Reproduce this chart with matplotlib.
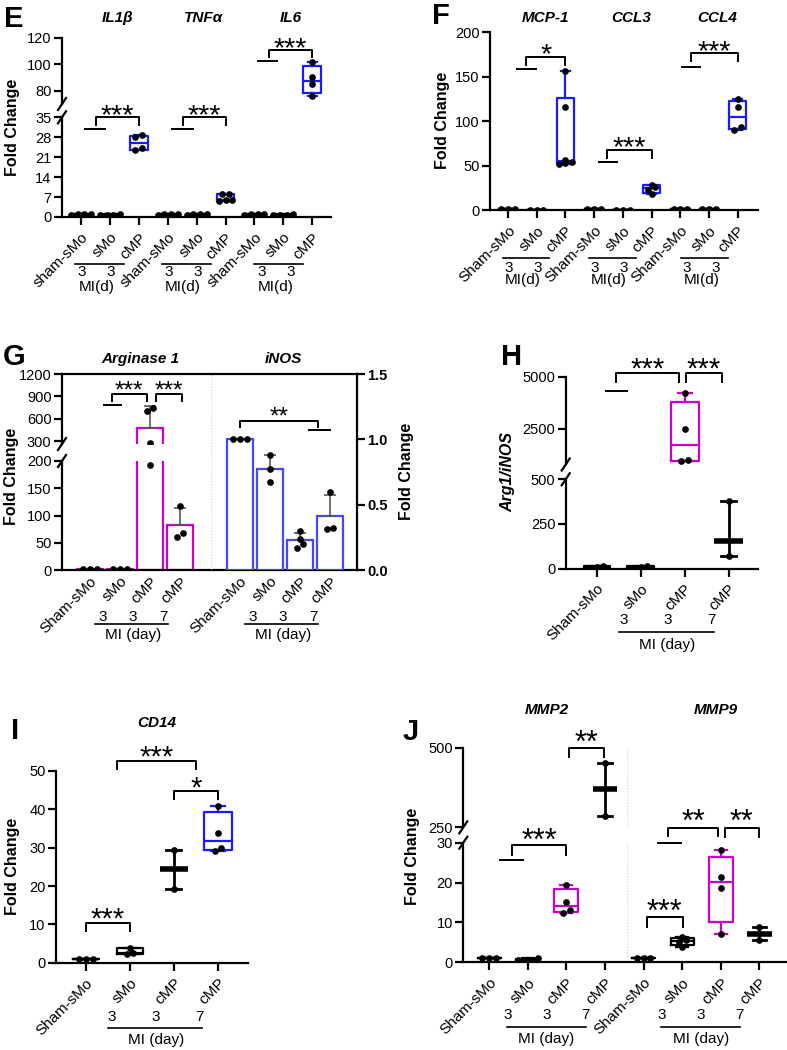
import numpy as np
import matplotlib
matplotlib.use("Agg")
import matplotlib.pyplot as plt
from matplotlib.lines import Line2D

plt.rcParams["font.family"] = ["Liberation Sans", "DejaVu Sans"]
plt.rcParams["axes.linewidth"] = 1.6
plt.rcParams["xtick.major.width"] = 1.6
plt.rcParams["ytick.major.width"] = 1.6
plt.rcParams["xtick.major.size"] = 5.5
plt.rcParams["ytick.major.size"] = 5.5
plt.rcParams["ytick.labelsize"] = 10.5
plt.rcParams["xtick.labelsize"] = 11
plt.rcParams["ytick.major.pad"] = 2
plt.rcParams["xtick.major.pad"] = 4

W, H = 787, 1050
BLUE = "#1a1aff"
MAG = "#cc00cc"
NOS = "#4646ff"

# ---- E: cytokines ----
e_genes = ["IL1β", "TNFα", "IL6"]
e_groups = ["sham-sMo", "sMo", "cMP"]
e_sham = [[0.8, 1.0, 1.0, 1.2], [0.8, 1.0, 1.0, 1.2], [0.8, 1.0, 1.0, 1.2]]
e_smo = [[0.6, 0.8, 0.8, 1.0], [0.7, 0.9, 1.0, 1.2], [0.6, 0.8, 0.8, 1.0]]
e_cmp = [[23.4, 24.2, 28.0, 28.8], [5.6, 6.0, 6.0, 8.2, 8.2], [75.8, 84.8, 90.1, 101.7]]

# ---- F: chemokines ----
f_genes = ["MCP-1", "CCL3", "CCL4"]
f_groups = ["Sham-sMo", "sMo", "cMP"]
f_sham = [[1.0, 1.0, 1.0], [1.0, 1.0, 1.0], [1.0, 1.0, 1.0]]
f_smo = [[0.6, 0.7, 0.8], [0.5, 0.6, 0.7], [0.9, 1.0, 1.1]]
f_cmp = [[156.5, 115.7, 56.5, 54.0, 53.5, 52.0], [28.4, 26.5, 22.8, 18.0], [124.7, 115.7, 94.0, 90.2]]

# ---- G: Arginase 1 / iNOS ----
g_groups = ["Sham-sMo", "sMo", "cMP", "cMP"]
g_days = ["3", "3", "7"]
g_arg = [[1, 1, 1], [1, 1, 1], [707, 747, 270, 193], [118, 67, 60]]
g_nos = [[1.0, 1.0, 1.0], [0.88, 0.77, 0.67], [0.30, 0.24, 0.20, 0.17], [0.60, 0.31, 0.325]]

# ---- H: Arg1/iNOS ----
h_sham = [3, 8, 12]
h_smo = [4, 9, 12]
h_cmp3 = [4206, 2483, 1014, 966]
h_cmp7 = [72, 154, 381]

# ---- I: CD14 ----
i_sham = [1.0, 1.0, 1.0]
i_smo = [3.9, 2.5, 2.3]
i_cmp3 = [19.2, 24.5, 29.4]
i_cmp7 = [41.0, 33.8, 29.9, 29.2]

# ---- J: MMP2 / MMP9 ----
j_genes = ["MMP2", "MMP9"]
j_sham = [[1.0, 1.0, 1.0], [1.0, 1.0, 1.0]]
j_smo = [[1.0, 0.7, 0.6, 0.5], [6.3, 5.5, 5.2, 3.9]]
j_cmp3 = [[19.3, 15.2, 13.1, 12.3], [28.2, 21.4, 18.7, 7.1]]
j_cmp7 = [[285, 370, 451], [5.6, 7.0, 8.9]]

fig = plt.figure(figsize=(W / 100, H / 100), dpi=100)


def add_ax(l, t, r, b, xlim, ylim):
    ax = fig.add_axes([l / W, 1 - b / H, (r - l) / W, (b - t) / H])
    ax.spines[["top", "right"]].set_visible(False)
    ax.set_xlim(*xlim)
    ax.set_ylim(*ylim)
    ax.px = (l, t, r, b)
    return ax


def upper(ax):
    ax.spines["bottom"].set_visible(False)
    ax.tick_params(axis="x", bottom=False, labelbottom=False)


def xppu(ax):
    x0, x1 = ax.get_xlim()
    return (ax.px[2] - ax.px[0]) / (x1 - x0)


def yppu(ax):
    y0, y1 = ax.get_ylim()
    return (ax.px[3] - ax.px[1]) / (y1 - y0)


def ay(ax, py):
    l, t, r, b = ax.px
    return (b - py) / (b - t)


def swarm(ax, x, vals, step=6.7, tol=4.0):
    vals = np.asarray(vals, float)
    clusters = []
    for i in np.argsort(vals):
        if clusters and (vals[i] - vals[clusters[-1][0]]) * yppu(ax) < tol:
            clusters[-1].append(i)
        else:
            clusters.append([i])
    xs = np.full(len(vals), float(x))
    for c in clusters:
        for j, i in enumerate(c):
            xs[i] += (j - (len(c) - 1) / 2) * step / xppu(ax)
    ax.plot(xs, vals, "o", color="k", ms=3.8, zorder=5)


def box(ax, x, vals, color="k", width=0.62):
    q1, med, q3 = np.percentile(vals, [25, 50, 75], method="weibull")
    st = {"med": med, "q1": q1, "q3": q3, "whislo": min(vals), "whishi": max(vals), "fliers": []}
    props = {"color": color, "linewidth": 1.6}
    ax.bxp([st], positions=[x], widths=width, capwidths=width / 2, showfliers=False,
           boxprops=props, whiskerprops=props, capprops=props, medianprops=props,
           manage_ticks=False)
    swarm(ax, x, vals)


def med_range(ax, x, vals):
    lo, med, hi = min(vals), np.median(vals), max(vals)
    ax.plot([x, x], [lo, hi], color="k", lw=2)
    for v in (lo, hi):
        ax.plot([x - 0.17, x + 0.17], [v, v], color="k", lw=2)
    ax.plot([x - 0.32, x + 0.32], [med, med], color="k", lw=4, solid_capstyle="butt")
    ax.plot([x, x], [lo, hi], "o", color="k", ms=3.8, zorder=5)


def bar(ax, x, vals, color):
    m = np.mean(vals)
    sd = np.std(vals, ddof=1)
    ax.bar(x, m, width=0.87, facecolor="white", edgecolor=color, lw=1.6, zorder=2)
    ax.errorbar(x, m, yerr=[[0], [sd]], color="#555555", lw=1.2, capsize=4.5,
                capthick=1.2, zorder=3)
    swarm(ax, x, vals)


def bracket(ax, x1, x2, y, stars, size=20.5, gap=10.5, drop=8):
    d = drop / yppu(ax)
    ax.plot([x1, x1, x2, x2], [y - d, y, y, y - d], color="k", lw=1.4, clip_on=False)
    off = 0.57 * size * 100 / 72 - gap
    ax.annotate(stars, xy=((x1 + x2) / 2, y), xytext=(0, -off), textcoords="offset pixels",
                ha="center", va="baseline", fontsize=size, annotation_clip=False)


def combo(ax, x1, x2, y):
    ax.plot([x1, x2], [y, y], color="k", lw=1.4, clip_on=False)


def xlabels(ax, labels, positions, pad=4):
    ax.set_xticks(positions)
    ax.set_xticklabels(labels)
    ax.tick_params(axis="x", pad=pad)
    plt.setp(ax.get_xticklabels(), rotation=45, ha="right", rotation_mode="anchor")


def day_block(ax, ticks, days, label, num_dx, line_dx, dys):
    k = xppu(ax)
    tr = ax.get_xaxis_transform()
    b = ax.px[3]
    xs = [x + num_dx / k for x in ticks]
    for x, d in zip(xs, days):
        ax.text(x, ay(ax, b + dys[0]), d, transform=tr, ha="center", va="center", fontsize=11)
    x1 = ticks[0] + line_dx[0] / k
    x2 = ticks[-1] + line_dx[1] / k
    ax.plot([x1, x2], [ay(ax, b + dys[1])] * 2, transform=tr, color="k", lw=1.2, clip_on=False)
    ax.text(np.mean(xs), ay(ax, b + dys[2]), label, transform=tr, ha="center", va="center",
            fontsize=11)


def title(ax, x, py, s):
    ax.text(x, ay(ax, py), s, transform=ax.get_xaxis_transform(), ha="center", va="center",
            fontsize=11, fontweight="bold", style="italic")


def ylab(px, py, s, **kw):
    fig.text(px / W, 1 - py / H, s, rotation=90, ha="center", va="center", fontsize=11.5,
             fontweight="bold", **kw)


def letter(px, py, s):
    fig.text(px / W, 1 - py / H, s, ha="center", va="center", fontsize=21, fontweight="bold")


def brk(ax_up, ax_low):
    l = ax_up.px[0]
    for y in (ax_up.px[3], ax_low.px[1]):
        fig.add_artist(Line2D([(l - 4) / W, (l + 4) / W], [1 - (y + 6) / H, 1 - (y - 6) / H],
                              color="k", lw=1.6))


# ================= E =================
e_xl = (-0.657, 8.65)
E_up = add_ax(62, 37.7, 331, 104, e_xl, (70, 120))
E_low = add_ax(62, 117.3, 331, 217, e_xl, (0, 35))
upper(E_up)
E_up.set_yticks([80, 100, 120])
E_low.set_yticks([0, 7, 14, 21, 28, 35])
for ax in (E_up, E_low):
    for i in range(3):
        box(ax, 3 * i, e_sham[i], "k", 0.65)
        box(ax, 3 * i + 1, e_smo[i], "k", 0.65)
        box(ax, 3 * i + 2, e_cmp[i], BLUE, 0.62)
xlabels(E_low, e_groups * 3, range(9))
for i, sh in enumerate([0, 0, 6]):
    day_block(E_low, [3 * i + 1, 3 * i + 2], ["3", "3"], "MI(d)", -28 + sh, (-35 + sh, -15 + sh),
              (55, 47, 70))
combo(E_low, 0.14, 0.83, 30.9)
bracket(E_low, 0.52, 2.0, 35.0, "***")
combo(E_low, 3.15, 3.88, 30.8)
bracket(E_low, 3.52, 5.0, 35.0, "***")
combo(E_up, 6.12, 6.78, 102.4)
bracket(E_up, 6.49, 8.0, 110.7, "***", drop=7.3)
for i, g in enumerate(e_genes):
    title(E_up, 3 * i + 1.25, 18, g)
brk(E_up, E_low)
ylab(13, 127, "Fold Change")
letter(14, 19, "E")

# ================= F =================
F = add_ax(490, 32.3, 758, 210.3, (-0.627, 8.71), (0, 200))
F.set_yticks([0, 50, 100, 150, 200])
for i in range(3):
    box(F, 3 * i, f_sham[i], "k", 0.65)
    box(F, 3 * i + 1, f_smo[i], "k", 0.65)
    box(F, 3 * i + 2, f_cmp[i], BLUE, 0.6)
xlabels(F, f_groups * 3, range(9))
for i, sh in enumerate([0, 0, 6]):
    day_block(F, [3 * i + 1, 3 * i + 2], ["3", "3"], "MI(d)", -28 + sh, (-34 + sh, -16 + sh),
              (58, 48, 70))
combo(F, 0.30, 0.97, 158.4)
bracket(F, 0.63, 2.0, 172.6, "*")
combo(F, 3.17, 3.79, 53.9)
bracket(F, 3.45, 5.0, 67.8, "***")
combo(F, 6.06, 6.69, 161.3)
bracket(F, 6.38, 8.0, 176.4, "***")
for i, g in enumerate(f_genes):
    title(F, 3 * i + 1.3, 18, g)
ylab(442, 120, "Fold Change")
letter(441, 16, "F")

# ================= G =================
g_xl = (-0.93, 8.9)
G_up = add_ax(62, 374, 357, 444, g_xl, (260, 1200))
G_low = add_ax(62, 461, 357, 570, g_xl, (0, 200))
G_r = add_ax(62, 374, 357, 570, g_xl, (0, 1.5))
upper(G_up)
G_up.set_yticks([300, 600, 900, 1200])
G_low.set_yticks([0, 50, 100, 150, 200])
G_r.patch.set_visible(False)
G_r.spines["left"].set_visible(False)
G_r.spines["bottom"].set_visible(False)
G_r.spines["right"].set_visible(True)
G_r.spines["top"].set_visible(True)
G_r.yaxis.tick_right()
G_r.tick_params(axis="x", bottom=False, labelbottom=False)
G_r.set_yticks([0, 0.5, 1.0, 1.5])
G_r.set_yticklabels(["0.0", "0.5", "1.0", "1.5"], fontweight="bold", fontsize=10.5)
G_r.axvline(4.02, color="#d0d0d0", ls=":", lw=0.8)
for ax in (G_up, G_low):
    for x, v in enumerate(g_arg):
        bar(ax, x, v, MAG)
for x, v in zip([5, 6, 7, 8], g_nos):
    bar(G_r, x, v, NOS)
G_low.tick_params(axis="x", length=0)
xlabels(G_low, g_groups * 2, [0, 1, 2, 3, 5, 6, 7, 8], pad=3)
for start in (1, 6):
    day_block(G_low, [start, start + 1, start + 2], g_days, "MI (day)", -17, (-25, -12),
              (46.7, 54.3, 65))
combo(G_up, 0.47, 1.02, 783)
bracket(G_up, 0.74, 1.89, 931, "***", size=17.5, gap=10.7, drop=7)
bracket(G_up, 2.19, 3.06, 931, "***", size=17.5, gap=10.7, drop=7)
bracket(G_r, 5.0, 7.59, 1.143, "**", size=17.5, gap=11, drop=6.6)
combo(G_r, 7.31, 8.0, 1.071)
title(G_up, 1.67, 359.3, "Arginase 1")
title(G_up, 6.44, 359.3, "iNOS")
brk(G_up, G_low)
ylab(12, 476, "Fold Change")
ylab(407, 471, "Fold Change")
letter(14, 357, "G")

# ================= H =================
h_xl = (-0.706, 3.67)
H_up = add_ax(565.7, 376.7, 758, 464.5, h_xl, (800, 5000))
H_low = add_ax(565.7, 479.3, 758, 568.5, h_xl, (0, 500))
upper(H_up)
H_up.set_yticks([2500, 5000])
H_low.set_yticks([0, 250, 500])
for ax in (H_up, H_low):
    box(ax, 0, h_sham, "k", 0.6)
    box(ax, 1, h_smo, "k", 0.6)
    box(ax, 2, h_cmp3, MAG, 0.64)
    med_range(ax, 3, h_cmp7)
xlabels(H_low, g_groups, range(4))
day_block(H_low, [1, 2, 3], g_days, "MI (day)", -17, (-22, -15), (51.5, 63, 76.5))
combo(H_up, 0.2, 0.68, 4330)
bracket(H_up, 0.43, 1.88, 5163, "***", size=21, gap=12.6, drop=8.4)
bracket(H_up, 2.03, 2.85, 5163, "***", size=21, gap=12.6, drop=8.4)
brk(H_up, H_low)
ylab(508, 472, "Arg1/iNOS", style="italic")
letter(512, 357, "H")

# ================= I =================
I = add_ax(56, 771, 248.3, 962.7, (-0.68, 3.69), (0, 50))
I.set_yticks([0, 10, 20, 30, 40, 50])
box(I, 0, i_sham, "k", 0.6)
box(I, 1, i_smo, "k", 0.6)
med_range(I, 2, i_cmp3)
box(I, 3, i_cmp7, BLUE, 0.63)
xlabels(I, g_groups, range(4))
day_block(I, [1, 2, 3], g_days, "MI (day)", -18, (-22, -16), (54, 65.6, 77.3))
bracket(I, 0, 1, 10.3, "***", size=21, gap=12)
bracket(I, 0.71, 2.5, 52.6, "***", size=21, gap=12.5)
bracket(I, 2.0, 3.0, 44.7, "*", size=21, gap=11.6)
title(I, 1.6, 723.3, "CD14")
ylab(13, 866, "Fold Change")
letter(15, 731, "I")

# ================= J =================
j_xl = (-0.67, 7.69)
J_up = add_ax(463.3, 747.7, 786, 827.3, j_xl, (250, 500))
J_low = add_ax(463.3, 842.7, 786, 962.3, j_xl, (0, 30))
upper(J_up)
J_up.set_yticks([250, 500])
J_low.set_yticks([0, 10, 20, 30])
for ax in (J_up, J_low):
    ax.axvline(3.56, color="#d0d0d0", ls=":", lw=0.8)
    for i in range(2):
        box(ax, 4 * i, j_sham[i], "k", 0.6)
        box(ax, 4 * i + 1, j_smo[i], "k", 0.6)
        box(ax, 4 * i + 2, j_cmp3[i], MAG, 0.62)
        med_range(ax, 4 * i + 3, j_cmp7[i])
xlabels(J_low, g_groups * 2, range(8))
for start in (1, 5):
    day_block(J_low, [start, start + 1, start + 2], g_days, "MI (day)", -20, (-21, -19),
              (52.7, 64.4, 76.7))
bracket(J_up, 2.07, 2.97, 500, "**", size=22, gap=13.7, drop=9)
combo(J_low, 0.28, 0.88, 25.6)
bracket(J_low, 0.6, 1.98, 29.3, "***", size=22, gap=13.3, drop=9.3)
bracket(J_low, 4.09, 5.01, 11.4, "***", size=22, gap=13.4, drop=10)
combo(J_low, 4.38, 4.98, 30.0)
bracket(J_low, 4.64, 5.93, 33.75, "**", size=22, gap=14, drop=8.4)
bracket(J_low, 6.1, 6.99, 33.75, "**", size=22, gap=14, drop=9)
title(J_up, 1.49, 710, j_genes[0])
title(J_up, 5.87, 710, j_genes[1])
brk(J_up, J_low)
ylab(413, 856, "Fold Change")
letter(411, 732, "J")

fig.savefig("out.png", dpi=100)
